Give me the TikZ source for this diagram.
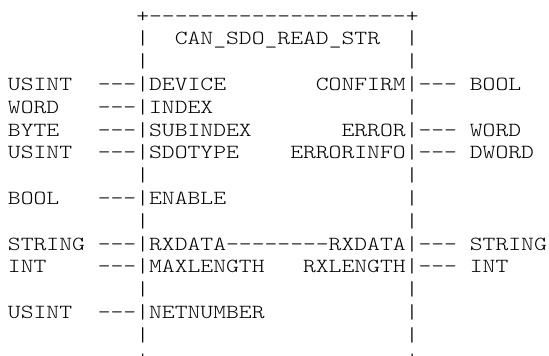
\documentclass[tikz,border=0pt]{standalone}
\usepackage{fontspec}
\setmonofont{Latin Modern Mono Light}[FakeStretch=1.222]
\usepackage{tikz}
\usetikzlibrary{positioning}

\tikzset{
    ascii/.style={font=\ttfamily\fontsize{20}{22.8}\selectfont, inner sep=0pt, outer sep=0pt, anchor=base west},
    asciiright/.style={ascii, anchor=base east}
}

\begin{document}
\begin{tikzpicture}[x=1pt, y=1pt]
    \def\cw{12.83}
    \def\lh{22.8}
    \def\xo{8}
    \def\yo{22}

    \clip (0,0) rectangle (549,-356);

    % frame top and bottom
    \node[ascii] (top) at (\xo+10*\cw, -\yo) {+--------------------+};
    \node[ascii] (bottom) at (\xo+10*\cw, -\yo-15*\lh) {+--------------------+};

    % frame sides
    \foreach \r in {1,...,14}
    {
        \node[ascii] (lbar-\r) at (\xo+10*\cw, -\yo-\r*\lh) {|};
        \node[ascii] (rbar-\r) at (\xo+31*\cw, -\yo-\r*\lh) {|};
    }

    % block name
    \node[ascii] (title) at (\xo+13*\cw, -\yo-\lh) {CAN\_SDO\_READ\_STR};

    % inputs
    \foreach \r/\ty/\pin in {
        3/USINT/DEVICE,
        4/WORD/INDEX,
        5/BYTE/SUBINDEX,
        6/USINT/SDOTYPE,
        8/BOOL/ENABLE,
        10/STRING/RXDATA,
        11/INT/MAXLENGTH,
        13/USINT/NETNUMBER}{

        \node[ascii] (intype-\r) at (\xo, -\yo-\r*\lh) {\ty};
        \node[ascii] (inwire-\r) at (\xo+7*\cw, -\yo-\r*\lh) {---};
        \node[ascii] (inpin-\r) at (\xo+11*\cw, -\yo-\r*\lh) {\pin};
    }

    % outputs
    \foreach \r/\pin/\ty in {
        3/CONFIRM/BOOL,
        5/ERROR/WORD,
        6/ERRORINFO/DWORD,
        10/RXDATA/STRING,
        11/RXLENGTH/INT}{

        \node[asciiright] (outpin-\r) at (\xo+31*\cw, -\yo-\r*\lh) {\pin};
        \node[ascii] (outwire-\r) at (\xo+32*\cw, -\yo-\r*\lh) {---};
        \node[ascii] (outtype-\r) at (\xo+36*\cw, -\yo-\r*\lh) {\ty};
    }

    % in/out pair
    \node[ascii] (through) at (\xo+17*\cw, -\yo-10*\lh) {--------};
\end{tikzpicture}
\end{document}
